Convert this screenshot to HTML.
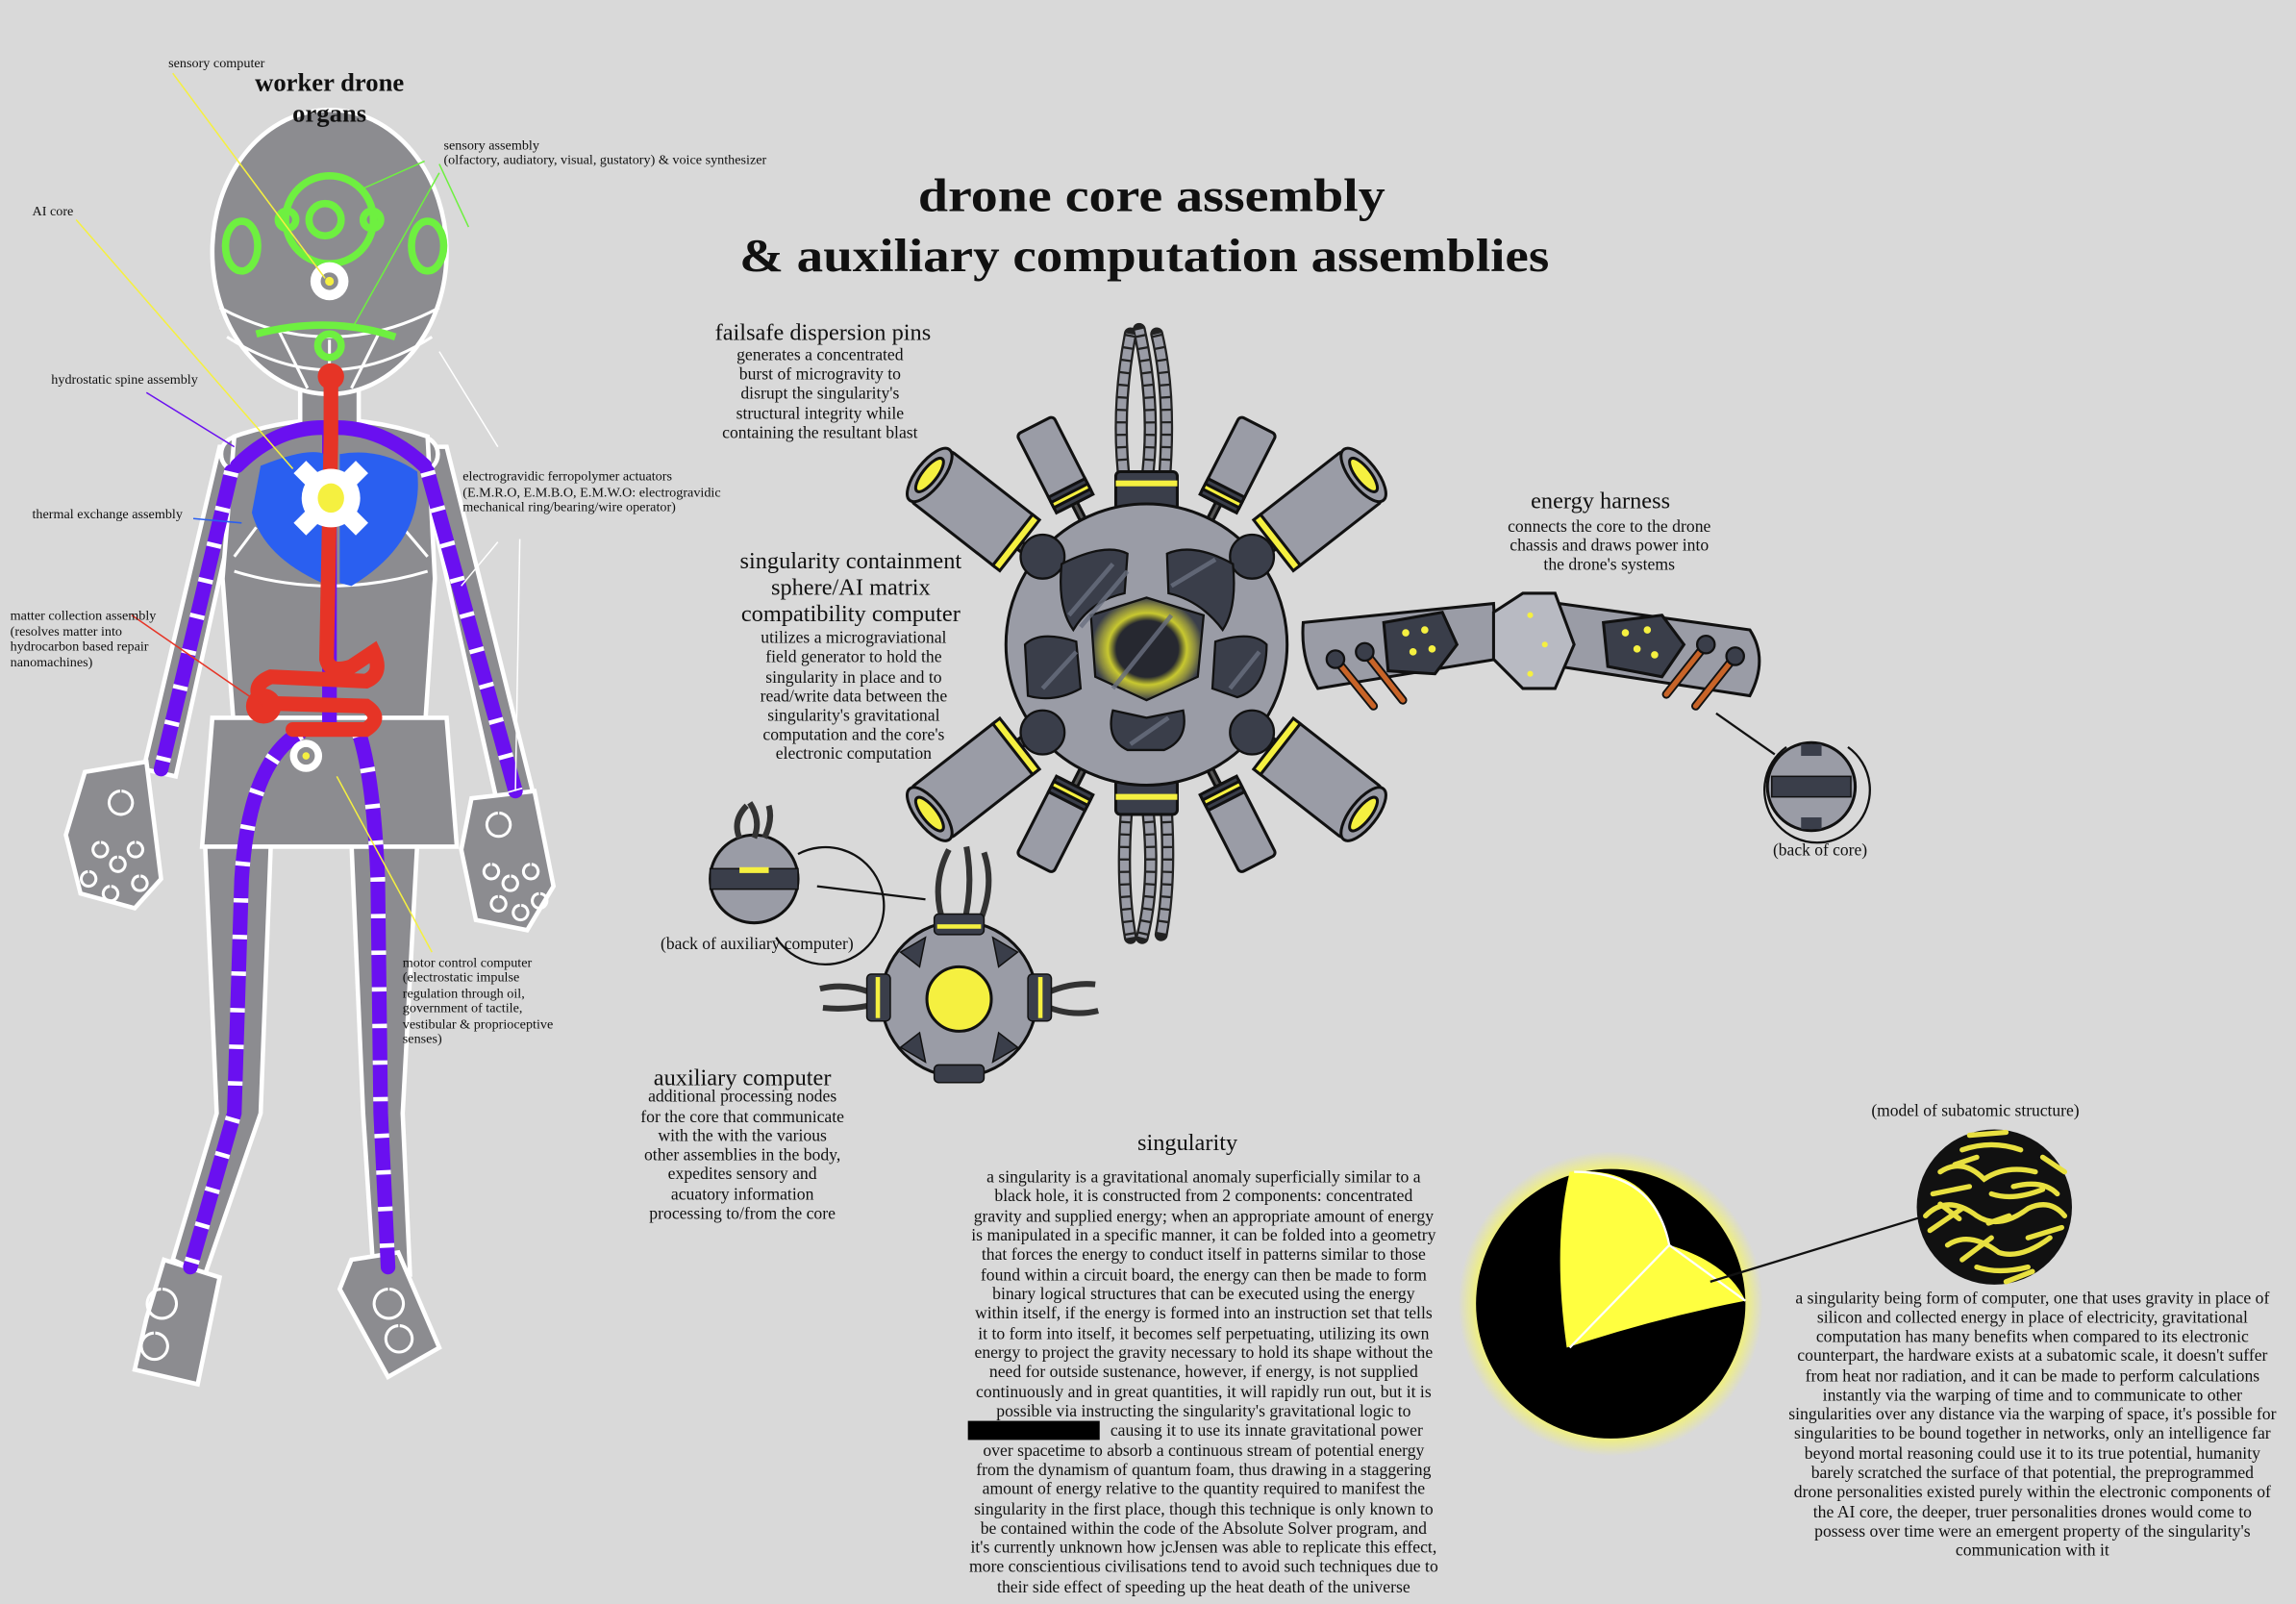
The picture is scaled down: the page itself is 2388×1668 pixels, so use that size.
<!DOCTYPE html>
<html><head><meta charset="utf-8"><style>
html,body{margin:0;padding:0;background:#d9d9d9;}
svg{display:block;}
text{font-family:"Liberation Serif",serif;fill:#111;}
</style></head><body>
<svg width="2388" height="1668" viewBox="0 0 1568 1095" preserveAspectRatio="none" xmlns="http://www.w3.org/2000/svg">
<defs>
<radialGradient id="glow" cx="50%" cy="50%" r="50%">
<stop offset="80%" stop-color="#ffff40" stop-opacity="1"/>
<stop offset="100%" stop-color="#ffff40" stop-opacity="0"/>
</radialGradient>
<radialGradient id="coreglow" cx="50%" cy="50%" r="50%">
<stop offset="55%" stop-color="#262830"/>
<stop offset="70%" stop-color="#c8c830"/>
<stop offset="85%" stop-color="#8a8a40"/>
<stop offset="100%" stop-color="#3a3e4a"/>
</radialGradient>
</defs>
<rect width="1568" height="1095" fill="#d9d9d9"/>

<!-- ============ DRONE FIGURE ============ -->
<g stroke="#fff" stroke-width="3" fill="#8c8c90">
<path d="M140 575 L185 575 L178 760 L140 870 L118 860 L148 760 Z"/>
<path d="M240 575 L285 575 L275 760 L280 870 L255 868 L248 760 Z"/>
<path d="M112 860 L150 872 L135 945 L92 935 L100 900 Z"/>
<path d="M240 860 L272 855 L300 920 L265 940 L232 880 Z"/>
<path d="M150 305 L170 305 L120 530 L98 525 Z"/>
<path d="M285 305 L305 305 L365 545 L340 550 Z"/>
<path d="M58 527 L100 520 L110 600 L92 620 L55 610 L45 570 Z"/>
<path d="M322 545 L365 540 L378 605 L360 635 L325 628 L315 580 Z"/>
<circle cx="163" cy="310" r="12"/>
<circle cx="287" cy="310" r="12"/>
<path d="M160 298 Q225 275 292 298 L297 395 L290 500 L160 500 L152 395 Z"/>
<path d="M145 490 L305 490 L312 578 L138 578 Z"/>
<rect x="205" y="250" width="40" height="42"/>
<ellipse cx="225" cy="172" rx="80" ry="97"/>
</g>
<g fill="none" stroke="#fff" stroke-width="2">
<path d="M150 210 Q225 250 300 210"/>
<path d="M155 230 Q225 275 295 230"/>
<path d="M190 225 L210 265 M260 225 L240 265 M225 232 L225 270"/>
<path d="M160 390 Q225 410 292 390"/>
<path d="M175 360 L160 380 M275 360 L292 380"/>
<path d="M82 540 a8 8 0 1 0 1 0 M68 575 a5 5 0 1 0 1 0 M80 585 a5 5 0 1 0 1 0 M92 575 a5 5 0 1 0 1 0 M60 595 a5 5 0 1 0 1 0 M75 605 a5 5 0 1 0 1 0 M95 598 a5 5 0 1 0 1 0"/>
<path d="M340 555 a8 8 0 1 0 1 0 M335 590 a5 5 0 1 0 1 0 M348 598 a5 5 0 1 0 1 0 M362 590 a5 5 0 1 0 1 0 M340 612 a5 5 0 1 0 1 0 M355 618 a5 5 0 1 0 1 0 M368 610 a5 5 0 1 0 1 0"/>
<path d="M110 880 a10 10 0 1 0 1 0 M105 910 a9 9 0 1 0 1 0 M265 880 a10 10 0 1 0 1 0 M272 905 a9 9 0 1 0 1 0"/>
</g>
<g fill="none" stroke="#6a10f0" stroke-width="10" stroke-linecap="round">
<path d="M162 318 Q190 290 225 292 Q260 290 290 318"/>
<path d="M158 322 L110 525"/>
<path d="M292 322 L352 540"/>
<path d="M225 295 L225 495"/>
<path d="M205 500 Q170 520 165 600 L160 760 L130 865"/>
<path d="M245 500 Q255 530 258 600 L260 760 L265 865"/>
</g>
<g fill="none" stroke="#fff" stroke-width="10" stroke-dasharray="3 22">
<path d="M158 322 L110 525"/>
<path d="M292 322 L352 540"/>
<path d="M205 500 Q170 520 165 600 L160 760 L130 865"/>
<path d="M245 500 Q255 530 258 600 L260 760 L265 865"/>
</g>
<path d="M178 318 Q210 305 222 310 L220 398 Q180 380 172 350 Z" fill="#2a5ff0"/>
<path d="M232 310 Q260 305 285 322 Q290 370 240 400 L232 398 Z" fill="#2a5ff0"/>
<g fill="none" stroke="#e63426" stroke-width="10" stroke-linecap="round">
<path d="M226 258 L226 300 L223 450 Q225 460 240 455 L255 445 Q262 460 250 465 L185 462 Q170 468 180 480 L250 482 Q262 490 250 498 L200 498"/>
</g>
<circle cx="226" cy="257" r="9" fill="#e63426"/>
<circle cx="180" cy="482" r="12" fill="#e63426"/>
<g fill="#fff">
<rect x="196" y="334" width="60" height="12" transform="rotate(45 226 340)"/>
<rect x="196" y="334" width="60" height="12" transform="rotate(-45 226 340)"/>
<circle cx="226" cy="340" r="20"/>
</g>
<ellipse cx="226" cy="340" rx="9" ry="10" fill="#f5f040"/>
<circle cx="209" cy="516" r="11" fill="#fff"/><circle cx="209" cy="516" r="6" fill="#8c8c90"/><circle cx="209" cy="516" r="2.5" fill="#f5f040"/>
<g fill="none" stroke="#6ef040" stroke-width="5">
<circle cx="225" cy="150" r="30"/>
<circle cx="222" cy="150" r="11"/>
<circle cx="196" cy="150" r="6"/>
<circle cx="254" cy="150" r="6"/>
<ellipse cx="165" cy="168" rx="11" ry="17"/>
<ellipse cx="292" cy="168" rx="11" ry="17"/>
<path d="M175 228 Q225 215 270 230"/>
<circle cx="225" cy="236" r="8"/>
</g>
<circle cx="225" cy="192" r="13" fill="#fff"/><circle cx="225" cy="192" r="6" fill="#8c8c90"/><circle cx="225" cy="192" r="3" fill="#f5f040"/>

<g fill="none" stroke-width="1">
<path d="M118 50 L222 190" stroke="#f5f040"/>
<path d="M52 150 L200 320" stroke="#f5f040"/>
<path d="M100 268 L160 305" stroke="#6a10f0"/>
<path d="M132 354 L165 357" stroke="#2a5ff0"/>
<path d="M90 420 L180 482" stroke="#e63426"/>
<path d="M290 110 L245 130 M300 118 L240 225 M300 112 L320 155" stroke="#6ef040"/>
<path d="M300 240 L340 305 M340 370 L315 400 M355 368 L352 540" stroke="#fff"/>
<path d="M230 530 L295 650" stroke="#f5f040"/>
</g>

<g font-size="9.3">
<text x="115" y="46">sensory computer</text>
<text x="22" y="147">AI core</text>
<text x="35" y="262">hydrostatic spine assembly</text>
<text x="22" y="354">thermal exchange assembly</text>
<text x="7" y="423">matter collection assembly</text>
<text x="7" y="434">(resolves matter into</text>
<text x="7" y="444">hydrocarbon based repair</text>
<text x="7" y="455">nanomachines)</text>
<text x="303" y="102">sensory assembly</text>
<text x="303" y="112">(olfactory, audiatory, visual, gustatory) &amp; voice synthesizer</text>
<text x="316" y="328">electrogravidic ferropolymer actuators</text>
<text x="316" y="339">(E.M.R.O, E.M.B.O, E.M.W.O: electrogravidic</text>
<text x="316" y="349">mechanical ring/bearing/wire operator)</text>
<text x="275" y="660">motor control computer</text>
<text x="275" y="670">(electrostatic impulse</text>
<text x="275" y="681">regulation through oil,</text>
<text x="275" y="691">government of tactile,</text>
<text x="275" y="702">vestibular &amp; proprioceptive</text>
<text x="275" y="712">senses)</text>
</g>
<text x="225" y="62" font-size="17.5" font-weight="bold" text-anchor="middle">worker drone</text>
<text x="225" y="83" font-size="17.5" font-weight="bold" text-anchor="middle">organs</text>

<!-- ============ TITLE ============ -->
<text x="627" y="144" font-size="32" font-weight="bold" textLength="319" lengthAdjust="spacingAndGlyphs">drone core assembly</text>
<text x="505" y="185" font-size="32" font-weight="bold" textLength="553" lengthAdjust="spacingAndGlyphs">&amp; auxiliary computation assemblies</text>

<!-- ============ CORE ============ -->
<g fill="none" stroke="#222" stroke-width="9" stroke-linecap="round">
<path d="M768 330 Q762 280 772 228 M783 330 Q790 280 778 225 M795 330 Q800 270 790 228"/>
<path d="M770 545 Q765 600 772 640 M783 545 Q790 600 780 640 M796 545 Q800 600 793 638"/>
</g>
<g fill="none" stroke="#9a9ca6" stroke-width="6" stroke-dasharray="7 1.5">
<path d="M768 330 Q762 280 772 228 M783 330 Q790 280 778 225 M795 330 Q800 270 790 228"/>
<path d="M770 545 Q765 600 772 640 M783 545 Q790 600 780 640 M796 545 Q800 600 793 638"/>
</g>
<rect x="762" y="322" width="42" height="26" rx="3" fill="#3a3e4a" stroke="#111" stroke-width="2"/>
<rect x="762" y="328" width="42" height="4" fill="#f5f040"/>
<rect x="762" y="532" width="42" height="24" rx="3" fill="#3a3e4a" stroke="#111" stroke-width="2"/>
<rect x="762" y="542" width="42" height="4" fill="#f5f040"/>

<g stroke="#111" stroke-width="2">
<g transform="translate(783,440) rotate(-142)"><rect x="85" y="-3" width="25" height="6" fill="#555"/><rect x="110" y="-22" width="78" height="44" rx="4" fill="#9a9ca6"/><rect x="110" y="-22" width="6" height="44" fill="#f5f040"/><ellipse cx="188" cy="0" rx="9" ry="22" fill="#9a9ca6"/><ellipse cx="188" cy="0" rx="5" ry="14" fill="#f5f040"/></g>
<g transform="translate(783,440) rotate(-38)"><rect x="85" y="-3" width="25" height="6" fill="#555"/><rect x="110" y="-22" width="78" height="44" rx="4" fill="#9a9ca6"/><rect x="110" y="-22" width="6" height="44" fill="#f5f040"/><ellipse cx="188" cy="0" rx="9" ry="22" fill="#9a9ca6"/><ellipse cx="188" cy="0" rx="5" ry="14" fill="#f5f040"/></g>
<g transform="translate(783,440) rotate(142)"><rect x="85" y="-3" width="25" height="6" fill="#555"/><rect x="110" y="-22" width="78" height="44" rx="4" fill="#9a9ca6"/><rect x="110" y="-22" width="6" height="44" fill="#f5f040"/><ellipse cx="188" cy="0" rx="9" ry="22" fill="#9a9ca6"/><ellipse cx="188" cy="0" rx="5" ry="14" fill="#f5f040"/></g>
<g transform="translate(783,440) rotate(38)"><rect x="85" y="-3" width="25" height="6" fill="#555"/><rect x="110" y="-22" width="78" height="44" rx="4" fill="#9a9ca6"/><rect x="110" y="-22" width="6" height="44" fill="#f5f040"/><ellipse cx="188" cy="0" rx="9" ry="22" fill="#9a9ca6"/><ellipse cx="188" cy="0" rx="5" ry="14" fill="#f5f040"/></g>
<g transform="translate(783,440) rotate(-117)"><rect x="92" y="-2" width="20" height="4" fill="#555"/><rect x="108" y="-14" width="60" height="28" rx="3" fill="#9a9ca6"/><rect x="108" y="-14" width="12" height="28" fill="#3a3e4a"/><rect x="112" y="-14" width="4" height="28" fill="#f5f040"/></g>
<g transform="translate(783,440) rotate(-63)"><rect x="92" y="-2" width="20" height="4" fill="#555"/><rect x="108" y="-14" width="60" height="28" rx="3" fill="#9a9ca6"/><rect x="108" y="-14" width="12" height="28" fill="#3a3e4a"/><rect x="112" y="-14" width="4" height="28" fill="#f5f040"/></g>
<g transform="translate(783,440) rotate(117)"><rect x="92" y="-2" width="20" height="4" fill="#555"/><rect x="108" y="-14" width="60" height="28" rx="3" fill="#9a9ca6"/><rect x="108" y="-14" width="12" height="28" fill="#3a3e4a"/><rect x="112" y="-14" width="4" height="28" fill="#f5f040"/></g>
<g transform="translate(783,440) rotate(63)"><rect x="92" y="-2" width="20" height="4" fill="#555"/><rect x="108" y="-14" width="60" height="28" rx="3" fill="#9a9ca6"/><rect x="108" y="-14" width="12" height="28" fill="#3a3e4a"/><rect x="112" y="-14" width="4" height="28" fill="#f5f040"/></g>
</g>
<circle cx="783" cy="440" r="96" fill="#9a9ca6" stroke="#111" stroke-width="2"/>
<g fill="#3a3e4a" stroke="#111" stroke-width="1.5">
<circle cx="712" cy="380" r="15"/><circle cx="855" cy="380" r="15"/><circle cx="712" cy="500" r="15"/><circle cx="855" cy="500" r="15"/>
<path d="M725 385 Q755 370 770 378 L768 405 Q745 410 733 430 Q722 415 725 385 Z"/>
<path d="M797 378 Q815 370 842 385 Q845 415 835 430 Q820 410 798 405 Z"/>
<path d="M745 420 L783 408 L822 420 L818 462 L783 478 L748 462 Z" fill="url(#coreglow)"/>
<path d="M700 440 Q710 430 735 438 L738 470 Q720 480 702 475 Z"/>
<path d="M830 438 Q855 430 865 440 Q865 470 845 476 L828 470 Z"/>
<path d="M760 485 L783 490 L808 485 Q812 505 795 512 L770 512 Q755 505 760 485 Z"/>
</g>
<g stroke="#6a7080" stroke-width="3" opacity="0.8">
<path d="M730 420 L760 385 M738 428 L770 390 M800 400 L830 382 M760 470 L800 420 M712 470 L735 445 M840 470 L860 445 M772 508 L798 490"/>
</g>

<!-- ============ ENERGY HARNESS ============ -->
<g stroke="#111" stroke-width="2" fill="#9a9ca6">
<path d="M890 425 L1020 412 L1022 450 L900 470 Q888 450 890 425 Z"/>
<path d="M1065 412 L1195 430 Q1208 450 1195 475 L1065 455 Z"/>
<path d="M1020 418 L1040 405 L1062 405 L1075 440 L1062 470 L1040 470 L1020 450 Z" fill="#b8bac2"/>
<path d="M945 425 L985 418 L995 440 L980 460 L948 458 Z" fill="#3a3e4a"/>
<path d="M1095 425 L1135 420 L1150 440 L1135 462 L1098 455 Z" fill="#3a3e4a"/>
</g>
<g fill="#f5f040"><circle cx="960" cy="432" r="2.5"/><circle cx="973" cy="430" r="2.5"/><circle cx="965" cy="445" r="2.5"/><circle cx="978" cy="443" r="2.5"/><circle cx="1110" cy="432" r="2.5"/><circle cx="1125" cy="430" r="2.5"/><circle cx="1118" cy="443" r="2.5"/><circle cx="1130" cy="447" r="2.5"/><circle cx="1045" cy="420" r="2"/><circle cx="1055" cy="440" r="2"/><circle cx="1045" cy="460" r="2"/></g>
<g stroke="#111" stroke-width="6" stroke-linecap="round"><path d="M912 450 L938 482 M932 445 L958 478 M1185 448 L1158 482 M1165 440 L1138 474"/></g>
<g stroke="#c86428" stroke-width="3.5" stroke-linecap="round"><path d="M912 450 L938 482 M932 445 L958 478 M1185 448 L1158 482 M1165 440 L1138 474"/></g>
<g fill="#3a3e4a" stroke="#111" stroke-width="1.5"><circle cx="912" cy="450" r="6"/><circle cx="932" cy="445" r="6"/><circle cx="1185" cy="448" r="6"/><circle cx="1165" cy="440" r="6"/></g>
<path d="M1172 487 L1212 515" stroke="#111" stroke-width="1.5"/>
<path d="M1220 510 A36 36 0 1 0 1262 510" fill="none" stroke="#111" stroke-width="1.5"/>
<circle cx="1237" cy="537" r="30" fill="#9a9ca6" stroke="#111" stroke-width="2"/>
<rect x="1210" y="530" width="54" height="14" fill="#3a3e4a" stroke="#111"/>
<rect x="1230" y="508" width="14" height="8" fill="#3a3e4a"/><rect x="1230" y="558" width="14" height="8" fill="#3a3e4a"/>
<text x="1243" y="584" font-size="11.5" text-anchor="middle">(back of core)</text>

<!-- ============ AUX COMPUTER ============ -->
<path d="M545 583 A40 40 0 1 1 530 640" fill="none" stroke="#111" stroke-width="1.5"/>
<path d="M558 605 L632 614" stroke="#111" stroke-width="1.5"/>
<circle cx="515" cy="600" r="30" fill="#9a9ca6" stroke="#111" stroke-width="2"/>
<rect x="485" y="593" width="60" height="14" fill="#3a3e4a" stroke="#111"/>
<rect x="505" y="592" width="20" height="4" fill="#f5f040"/>
<g fill="none" stroke="#333" stroke-width="4"><path d="M505 572 Q500 560 510 550 M515 572 Q520 560 512 548 M522 572 Q528 560 525 550"/></g>
<g fill="none" stroke="#333" stroke-width="4"><path d="M645 632 Q635 605 648 580 M658 632 Q665 605 660 578 M668 632 Q680 605 672 582"/>
<path d="M600 680 Q580 670 560 675 M600 685 Q580 690 562 688 M710 680 Q730 670 748 672 M710 685 Q730 695 750 690"/></g>
<circle cx="655" cy="682" r="53" fill="#9a9ca6" stroke="#111" stroke-width="2"/>
<g fill="#3a3e4a" stroke="#111"><rect x="638" y="624" width="34" height="14" rx="3"/><rect x="638" y="727" width="34" height="12" rx="3"/><rect x="592" y="665" width="16" height="32" rx="3"/><rect x="702" y="665" width="16" height="32" rx="3"/>
<path d="M615 650 L632 640 L628 660 Z"/><path d="M695 650 L678 640 L682 660 Z"/><path d="M615 715 L632 725 L628 705 Z"/><path d="M695 715 L678 725 L682 705 Z"/></g>
<g fill="#f5f040"><rect x="640" y="631" width="30" height="3"/><rect x="598" y="667" width="3" height="28"/><rect x="709" y="667" width="3" height="28"/></g>
<circle cx="655" cy="682" r="22" fill="#f5f040" stroke="#111" stroke-width="2"/>
<text x="517" y="648" font-size="11.5" text-anchor="middle">(back of auxiliary computer)</text>

<!-- ============ SINGULARITY ============ -->
<circle cx="1100" cy="890" r="104" fill="url(#glow)"/>
<circle cx="1100" cy="890" r="92" fill="#000"/>
<path d="M1072 800 Q1130 795 1140 850 Q1180 862 1192 888 Q1130 900 1070 920 Q1060 850 1072 800 Z" fill="#ffff40"/>
<path d="M1140 850 L1072 920 M1140 850 L1192 888 M1140 850 Q1130 800 1075 800" stroke="#fff" stroke-width="1.5" fill="none"/>
<path d="M1168 875 L1315 830" stroke="#111" stroke-width="1.5"/>
<circle cx="1362" cy="824" r="53" fill="#111"/>
<g fill="none" stroke="#e8e040" stroke-width="3.5" stroke-linecap="round">
<path d="M1325 800 Q1340 790 1355 805 Q1370 795 1390 800 M1315 830 Q1330 815 1350 830 Q1365 840 1385 825 Q1400 818 1410 830 M1330 850 Q1345 840 1365 855 Q1380 860 1400 845 M1340 785 Q1360 778 1380 785 M1320 815 L1345 810 M1350 865 Q1365 870 1385 865 M1375 810 Q1395 805 1405 815"/>
<path d="M1318 840 L1340 825 M1335 795 L1350 790 M1360 815 Q1375 820 1395 812 M1340 860 L1360 845 M1385 845 L1408 838 M1345 775 L1370 773 M1395 790 L1410 800 M1325 822 L1338 832 M1358 835 L1372 830 M1370 875 L1388 868"/>
</g>
<text x="1349" y="762" font-size="11.5" text-anchor="middle">(model of subatomic structure)</text>

<!-- ============ TEXT BLOCKS ============ -->
<g font-size="11.6" text-anchor="middle">
<text x="562" y="232" font-size="16">failsafe dispersion pins</text>
<text x="560" y="246">generates a concentrated</text>
<text x="560" y="259">burst of microgravity to</text>
<text x="560" y="272">disrupt the singularity's</text>
<text x="560" y="286">structural integrity while</text>
<text x="560" y="299">containing the resultant blast</text>

<text x="581" y="388" font-size="16">singularity containment</text>
<text x="581" y="406" font-size="16">sphere/AI matrix</text>
<text x="581" y="424" font-size="16">compatibility computer</text>
<text x="583" y="439">utilizes a micrograviational</text>
<text x="583" y="452">field generator to hold the</text>
<text x="583" y="466">singularity in place and to</text>
<text x="583" y="479">read/write data between the</text>
<text x="583" y="492">singularity's gravitational</text>
<text x="583" y="505">computation and the core's</text>
<text x="583" y="518">electronic computation</text>

<text x="1093" y="347" font-size="16">energy harness</text>
<text x="1099" y="363">connects the core to the drone</text>
<text x="1099" y="376">chassis and draws power into</text>
<text x="1099" y="389">the drone's systems</text>

<text x="507" y="741" font-size="16">auxiliary computer</text>
<text x="507" y="752">additional processing nodes</text>
<text x="507" y="766">for the core that communicate</text>
<text x="507" y="779">with the with the various</text>
<text x="507" y="792">other assemblies in the body,</text>
<text x="507" y="805">expedites sensory and</text>
<text x="507" y="819">acuatory information</text>
<text x="507" y="832">processing to/from the core</text>

<text x="811" y="785" font-size="16">singularity</text>
<text x="822" y="807">a singularity is a gravitational anomaly superficially similar to a</text>
<text x="822" y="820">black hole, it is constructed from 2 components: concentrated</text>
<text x="822" y="834">gravity and supplied energy; when an appropriate amount of energy</text>
<text x="822" y="847">is manipulated in a specific manner, it can be folded into a geometry</text>
<text x="822" y="860">that forces the energy to conduct itself in patterns similar to those</text>
<text x="822" y="874">found within a circuit board, the energy can then be made to form</text>
<text x="822" y="887">binary logical structures that can be executed using the energy</text>
<text x="822" y="900">within itself, if the energy is formed into an instruction set that tells</text>
<text x="822" y="914">it to form into itself, it becomes self perpetuating, utilizing its own</text>
<text x="822" y="927">energy to project the gravity necessary to hold its shape without the</text>
<text x="822" y="940">need for outside sustenance, however, if energy, is not supplied</text>
<text x="822" y="954">continuously and in great quantities, it will rapidly run out, but it is</text>
<text x="822" y="967">possible via instructing the singularity's gravitational logic to</text>
<text x="865" y="980">causing it to use its innate gravitational power</text>
<text x="822" y="994">over spacetime to absorb a continuous stream of potential energy</text>
<text x="822" y="1007">from the dynamism of quantum foam, thus drawing in a staggering</text>
<text x="822" y="1020">amount of energy relative to the quantity required to manifest the</text>
<text x="822" y="1034">singularity in the first place, though this technique is only known to</text>
<text x="822" y="1047">be contained within the code of the Absolute Solver program, and</text>
<text x="822" y="1060">it's currently unknown how jcJensen was able to replicate this effect,</text>
<text x="822" y="1073">more conscientious civilisations tend to avoid such techniques due to</text>
<text x="822" y="1087">their side effect of speeding up the heat death of the universe</text>

<text x="1388" y="890">a singularity being form of computer, one that uses gravity in place of</text>
<text x="1388" y="903">silicon and collected energy in place of electricity, gravitational</text>
<text x="1388" y="916">computation has many benefits when compared to its electronic</text>
<text x="1388" y="929">counterpart, the hardware exists at a subatomic scale, it doesn't suffer</text>
<text x="1388" y="943">from heat nor radiation, and it can be made to perform calculations</text>
<text x="1388" y="956">instantly via the warping of time and to communicate to other</text>
<text x="1388" y="969">singularities over any distance via the warping of space, it's possible for</text>
<text x="1388" y="982">singularities to be bound together in networks, only an intelligence far</text>
<text x="1388" y="996">beyond mortal reasoning could use it to its true potential, humanity</text>
<text x="1388" y="1009">barely scratched the surface of that potential, the preprogrammed</text>
<text x="1388" y="1022">drone personalities existed purely within the electronic components of</text>
<text x="1388" y="1036">the AI core, the deeper, truer personalities drones would come to</text>
<text x="1388" y="1049">possess over time were an emergent property of the singularity's</text>
<text x="1388" y="1062">communication with it</text>
</g>
<rect x="661" y="970" width="90" height="13" fill="#000"/>
</svg>
</body></html>
